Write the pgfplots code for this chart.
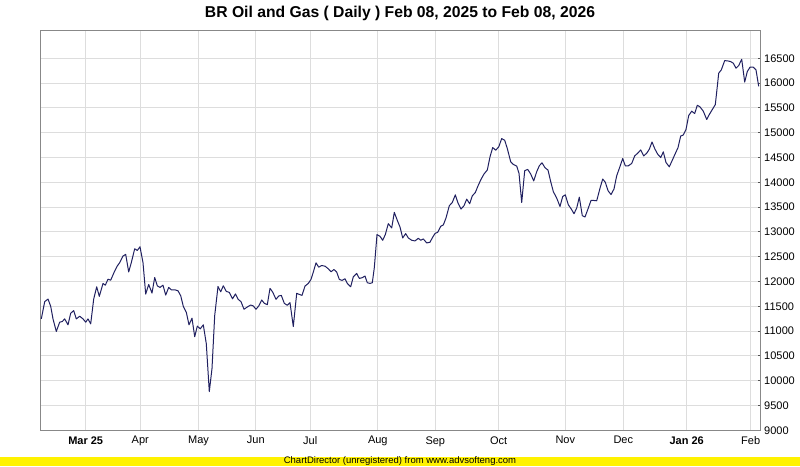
\documentclass[border=0pt]{standalone}
\usepackage{fontspec}
\setmainfont{Liberation Sans}
\usepackage{pgfplots}
\pgfplotsset{compat=1.18}

\definecolor{frame}{RGB}{136,136,136}
\definecolor{gridc}{RGB}{221,221,221}
\definecolor{linec}{RGB}{32,32,96}

% x = pixel column of the original chart (trading-day axis), y = index value
\pgfplotstableread{
x y
41.3 11246
44.7 11593
48.0 11646
50.7 11500
53.0 11246
56.3 10993
59.7 11180
62.3 11193
64.7 11246
68.0 11126
70.7 11360
73.7 11413
76.3 11246
79.7 11300
83.0 11246
85.7 11180
88.0 11246
90.7 11146
93.7 11646
96.7 11893
99.3 11700
103.0 11960
105.3 11926
108.0 12046
110.7 12026
114.0 12180
117.3 12313
119.7 12380
123.0 12513
125.7 12546
128.7 12193
131.3 12380
134.7 12660
137.3 12626
140.0 12700
143.0 12380
145.7 11746
148.7 11940
152.0 11766
154.7 12080
157.3 11913
160.0 11880
163.0 11926
165.7 11726
168.7 11880
171.3 11833
174.7 11833
178.0 11813
180.7 11713
183.3 11500
186.3 11380
189.0 11126
192.0 11260
194.7 10886
197.3 11100
200.3 11046
203.3 11126
206.3 10746
209.3 9780
212.0 10246
214.7 11313
218.0 11900
220.7 11793
223.3 11913
226.3 11800
229.3 11780
232.5 11650
235.5 11750
238.2 11640
241.0 11593
244.0 11440
247.3 11486
250.7 11526
253.3 11506
256.0 11440
258.7 11506
261.7 11627
264.3 11560
267.3 11533
270.0 11861
272.7 11787
276.0 11640
278.7 11707
281.3 11720
284.3 11560
287.3 11520
290.0 11573
293.3 11092
296.7 11761
299.3 11740
302.0 11720
305.0 11908
308.3 11961
311.0 12042
313.3 12189
316.0 12376
318.7 12289
321.7 12322
325.0 12309
328.3 12256
331.0 12196
334.0 12242
336.7 12189
339.3 12042
342.0 12022
345.0 12055
347.3 11961
350.7 11894
353.3 12095
356.7 12162
359.3 12062
362.0 12075
365.0 12109
367.3 11975
370.0 11961
372.3 11975
374.3 12276
377.0 12945
380.0 12911
382.7 12831
385.3 12945
388.3 13166
391.7 13079
394.3 13393
397.3 13232
400.0 13099
402.7 12878
405.7 12965
408.3 12878
411.7 12831
415.0 12818
418.3 12871
420.7 12831
423.3 12858
426.7 12778
430.0 12791
432.3 12880
435.0 12967
437.7 12993
440.7 13113
443.3 13140
446.0 13280
449.3 13527
452.3 13593
455.3 13747
458.0 13580
461.0 13460
464.0 13527
466.7 13660
469.7 13567
472.3 13727
475.3 13793
478.0 13927
480.7 14047
484.0 14167
487.3 14247
490.0 14513
492.7 14700
495.7 14647
498.7 14713
501.7 14880
504.7 14847
507.3 14680
510.7 14413
513.3 14360
516.7 14327
519.0 14180
521.7 13593
524.7 14233
527.7 14260
530.7 14167
533.7 14027
536.7 14213
539.3 14333
542.0 14393
545.0 14293
548.0 14247
550.7 14013
553.3 13813
556.7 13680
560.0 13513
562.7 13713
565.3 13747
568.3 13547
571.3 13460
574.0 13367
576.7 13480
579.3 13700
582.3 13327
585.0 13300
587.7 13447
591.0 13633
594.0 13633
596.7 13627
600.0 13880
602.7 14066
605.3 14000
608.0 13832
611.0 13752
614.0 13866
616.7 14132
619.3 14279
622.7 14479
625.3 14332
628.3 14332
631.7 14379
634.7 14532
637.7 14586
640.7 14652
643.7 14532
646.7 14586
649.3 14666
652.0 14812
655.0 14666
657.7 14566
660.7 14499
663.3 14613
666.0 14399
669.3 14312
672.0 14432
675.0 14566
678.0 14699
680.7 14933
683.3 14953
686.0 15066
688.7 15346
691.7 15433
694.7 15386
697.3 15553
700.0 15520
703.3 15433
706.7 15266
709.3 15366
712.7 15480
715.3 15566
717.3 15933
718.7 16200
721.3 16266
724.7 16453
727.7 16447
730.7 16433
733.3 16400
736.0 16300
738.7 16353
741.7 16480
744.7 16020
747.3 16233
750.0 16320
753.3 16320
756.0 16266
758.7 15933
}\oil

\begin{document}
\begin{tikzpicture}
\path[use as bounding box] (0,0) rectangle (800pt,466pt);
\fill[yellow] (0,0) rectangle (800pt,9.5pt);
\node[font=\fontsize{9.5}{10}\selectfont, inner sep=0pt] at (400pt,4.8pt) {ChartDirector (unregistered) from www.advsofteng.com};
\node[font=\bfseries\fontsize{15.7}{18}\selectfont, inner sep=0pt] at (400pt,453pt) {BR Oil and Gas ( Daily ) Feb 08, 2025 to Feb 08, 2026};
\begin{axis}[
    at={(40pt,35.7pt)}, anchor=south west,
    scale only axis,
    width=720.7pt, height=399.6pt,
    xmin=40, xmax=760.7,
    ymin=9000, ymax=17056,
    axis line style={frame, line width=1pt},
    grid=major,
    major grid style={gridc, line width=1pt},
    xtick={85.7,140.3,198.5,255.8,310.2,377.8,435.3,498.7,565.3,623.3,686.7,750.7},
    xticklabels={\textbf{Mar 25},Apr,May,Jun,Jul,Aug,Sep,Oct,Nov,Dec,\textbf{Jan 26},Feb},
    x tick style={draw=none},
    xticklabel style={yshift=-2.5pt},
    ytick={9000,9500,...,16500},
    ytick pos=right,
    yticklabel pos=right,
    y tick style={frame!60!black, line width=1pt},
    tick align=inside,
    major tick length=3pt,
    tick label style={font=\fontsize{11}{13}\selectfont},
    /pgf/number format/assume math mode=true,
    /pgf/number format/1000 sep={},
    scaled y ticks=false,
]
\addplot[linec, line width=1pt, line join=round] table[x=x, y=y] {\oil};
\end{axis}
\end{tikzpicture}
\end{document}
